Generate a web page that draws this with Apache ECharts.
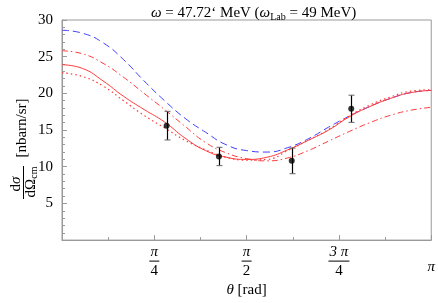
<!DOCTYPE html>
<html>
<head>
<meta charset="utf-8">
<script src="https://cdn.jsdelivr.net/npm/echarts@6/dist/echarts.min.js"></script>
<style>
html,body{margin:0;padding:0;background:#fff;}
#c{width:438px;height:303px;}
</style>
</head>
<body>
<div id="c"></div>
<script>
// angles in degrees (0..180 = 0..π)
const angles = [0,10,20,30,40,50,60,70,80,90,100,110,120,130,140,150,160,170,180];
const blueDashed = [28.6,28.2,26.9,24.6,21.7,19.0,16.6,14.7,13.0,12.2,12.0,12.6,13.8,15.4,16.9,18.2,19.3,20.1,20.4];
const redDashDot = [25.8,25.4,24.1,22.2,20.0,17.8,15.5,13.3,11.9,11.1,10.8,11.2,12.2,13.5,14.8,16.0,17.0,17.7,18.1];
const redSolid   = [23.9,23.4,21.7,19.6,17.8,16.1,13.9,12.2,11.3,11.0,11.3,12.3,13.6,15.0,16.8,18.2,19.3,20.1,20.4];
const redDotted  = [22.8,22.3,21.0,19.0,17.0,15.3,13.6,12.3,11.3,10.9,11.0,12.2,13.6,15.1,16.9,18.4,19.5,20.3,20.5];
const dataAngles = [51, 76.5, 112, 141];
const dataValues = [15.6, 11.4, 10.8, 17.9];
const dataErrors = [1.95, 1.25, 1.75, 1.85];
const xTickNum = {45:'π', 90:'π', 135:'3 π', 180:'π'};
const xTickDen = {45:'4', 90:'2', 135:'4', 180:''};
const yTicks = [0,5,10,15,20,25,30];

const pair = (xs, ys) => xs.map((x,i)=>[x, ys[i]]);
const serif = '"Liberation Serif","Times New Roman",serif';
const FS = 15;
const RED = '#ff3b3b', BLUE = '#4040ff';

const chart = echarts.init(document.getElementById('c'), null, {renderer:'canvas'});
chart.setOption({
  animation:false,
  backgroundColor:'#fff',
  title:{
    text:'{i|ω} = 47.72‘ MeV ({i|ω}{s|Lab} = 49 MeV)',
    left:146, top:0,
    textStyle:{fontFamily:serif, fontSize:FS, fontWeight:'normal', color:'#000',
      rich:{i:{fontFamily:serif, fontSize:FS, fontStyle:'italic', color:'#000'},
            s:{fontFamily:serif, fontSize:10, color:'#000', verticalAlign:'bottom', padding:[7,0,0,0]}}}
  },
  grid:{left:62, right:5, top:20, bottom:51, show:true, borderColor:'#9a9a9a', borderWidth:1, backgroundColor:'transparent'},
  xAxis:{
    type:'value', min:0, max:180, interval:45,
    name:'{i|θ} [rad]', nameLocation:'middle', nameGap:32,
    nameTextStyle:{fontFamily:serif, fontSize:FS, color:'#000', rich:{i:{fontFamily:serif, fontSize:FS, fontStyle:'italic'}}},
    axisLine:{lineStyle:{color:'#9a9a9a'}},
    axisTick:{inside:true, length:5, lineStyle:{color:'#9a9a9a'}},
    minorTick:{show:true, splitNumber:2, length:3, lineStyle:{color:'#9a9a9a'}},
    splitLine:{show:false},
    axisLabel:{
      margin:4, color:'#000', fontFamily:serif, fontSize:FS,
      formatter:function(v){
        const n = xTickNum[v];
        if(!n) return '';
        const d = xTickDen[v];
        if(!d) return '{e| }\n{n|'+n+'}';
        const b = n.length>1 ? 'bw' : 'b';
        return '{n|'+n+'}\n{'+b+'| }\n{d|'+d+'}';
      },
      rich:{
        n:{fontFamily:serif, fontSize:FS, fontStyle:'italic', lineHeight:15, color:'#000'},
        d:{fontFamily:serif, fontSize:FS, lineHeight:15, color:'#000'},
        e:{fontSize:1, lineHeight:15},
        b:{width:10, height:1, lineHeight:4, backgroundColor:'#000', fontSize:1},
        bw:{width:21, height:1, lineHeight:4, backgroundColor:'#000', fontSize:1}
      }
    }
  },
  yAxis:{
    type:'value', min:0, max:30, interval:5,
    axisLine:{show:true, lineStyle:{color:'#9a9a9a'}},
    axisTick:{show:true, inside:true, length:5, lineStyle:{color:'#9a9a9a'}},
    minorTick:{show:true, splitNumber:5, length:3, lineStyle:{color:'#9a9a9a'}},
    splitLine:{show:false},
    axisLabel:{margin:9, color:'#000', fontFamily:serif, fontSize:FS,
      formatter:function(v){ return yTicks.indexOf(v)>=0 && v>0 ? String(v) : ''; }}
  },
  graphic:[
    {type:'text', x:16, y:184, rotation:Math.PI/2,
     style:{text:'d{i|σ}', fontFamily:serif, fontSize:FS, fill:'#000', align:'center', verticalAlign:'middle',
       rich:{i:{fontFamily:serif, fontSize:FS, fontStyle:'italic', fill:'#000'}}}},
    {type:'line', shape:{x1:23.5, y1:166, x2:23.5, y2:199}, style:{stroke:'#000', lineWidth:1}},
    {type:'text', x:31, y:182, rotation:Math.PI/2,
     style:{text:'dΩ{s|cm}', fontFamily:serif, fontSize:FS, fill:'#000', align:'center', verticalAlign:'middle',
       rich:{s:{fontFamily:serif, fontSize:10, fill:'#000', padding:[6,0,0,0]}}}},
    {type:'text', x:22, y:128, rotation:Math.PI/2,
     style:{text:'[nbarn/sr]', fontFamily:serif, fontSize:FS, fill:'#000', align:'center', verticalAlign:'middle'}}
  ],
  series:[
    {type:'line', data:pair(angles, blueDashed), smooth:true, symbol:'none',
     lineStyle:{color:BLUE, width:1, type:[7,4]}},
    {type:'line', data:pair(angles, redDashDot), smooth:true, symbol:'none',
     lineStyle:{color:RED, width:1, type:[6,3,1.5,3]}},
    {type:'line', data:pair(angles, redSolid), smooth:true, symbol:'none',
     lineStyle:{color:RED, width:1, type:'solid'}},
    {type:'line', data:pair(angles, redDotted), smooth:true, symbol:'none',
     lineStyle:{color:RED, width:1.2, type:[1.5,3]}},
    {type:'custom', data:dataAngles.map((a,i)=>[a, dataValues[i]-dataErrors[i], dataValues[i]+dataErrors[i]]),
     renderItem:function(params, api){
       const lo = api.coord([api.value(0), api.value(1)]);
       const hi = api.coord([api.value(0), api.value(2)]);
       const x = Math.round(lo[0])+0.5;
       return {type:'group', children:[
         {type:'line', shape:{x1:x, y1:lo[1], x2:x, y2:hi[1]}, style:{stroke:'#000', lineWidth:1.2}},
         {type:'line', shape:{x1:x-3, y1:lo[1], x2:x+3, y2:lo[1]}, style:{stroke:'#666', lineWidth:1}},
         {type:'line', shape:{x1:x-3, y1:hi[1], x2:x+3, y2:hi[1]}, style:{stroke:'#666', lineWidth:1}}
       ]};
     }, z:5},
    {type:'scatter', data:pair(dataAngles, dataValues), symbol:'circle', symbolSize:6,
     itemStyle:{color:'#000'}, z:6}
  ]
});
</script>
</body>
</html>
